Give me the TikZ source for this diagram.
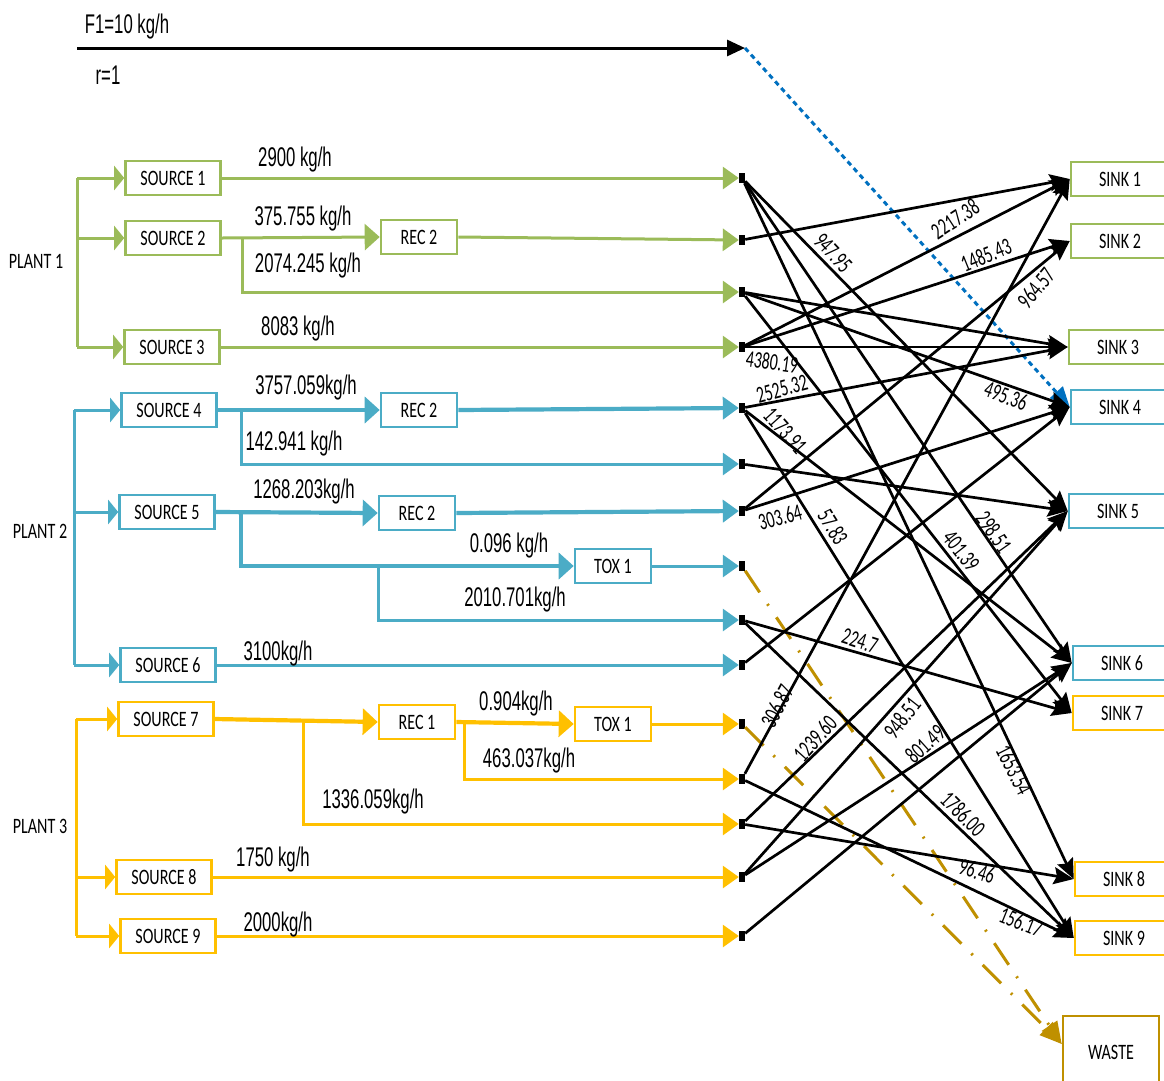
\documentclass[tikz,border=0pt]{standalone}
\usepackage{fontspec}
\usetikzlibrary{arrows.meta}
\newfontfamily\boxfont[FakeStretch=0.73]{Carlito}
\newfontfamily\numfont[FakeStretch=0.66]{Carlito}
\newfontfamily\flowfont[FakeStretch=0.62]{Liberation Sans}
\definecolor{pg}{HTML}{9BBB59}
\definecolor{pb}{HTML}{4BACC6}
\definecolor{py}{HTML}{FFC000}
\definecolor{wg}{HTML}{BF9000}
\definecolor{db}{HTML}{0070C0}
\begin{document}
\begin{tikzpicture}[x=1pt,y=-1pt,
  bx/.style={draw, line width=2.6pt, inner sep=0pt, minimum height=34pt, font=\boxfont\fontsize{22}{24}\selectfont},
  srcbox/.style={bx, minimum width=95pt},
  recbox/.style={bx, minimum width=76pt},
  sinkbox/.style={bx, minimum width=98pt},
  plantlbl/.style={font=\boxfont\fontsize{22}{24}\selectfont, inner sep=0pt},
  flowlbl/.style={font=\flowfont\fontsize{27}{29}\selectfont, inner sep=0pt},
  vlbl/.style={font=\numfont\fontsize{24}{26}\selectfont, inner sep=0pt},
  jn/.style={fill=black, minimum width=6pt, minimum height=10pt, inner sep=0pt},
  pipe/.style={line width=3pt},
  fatpipe/.style={line width=4.2pt},
  arrS/.style={-{Triangle[length=10pt,width=24pt]}},
  arrR/.style={-{Triangle[length=15pt,width=26pt]}},
  arrJ/.style={-{Triangle[length=16pt,width=22pt]}},
  conn/.style={line width=2.7pt, -{Stealth[length=20pt,width=17pt,inset=3pt]}},
]
\fill[white] (0,0) rectangle (1164,1080);
\useasboundingbox (0,0) rectangle (1164,1080);
\clip (0,0) rectangle (1164,1080);

% ---------- top arrow ----------
\coordinate (f1s) at (77,48);
\coordinate (f1e) at (745,48);
\draw[line width=3pt, -{Triangle[length=18pt,width=16pt]}] (f1s) -- (f1e);
\node[flowlbl] (f1) at (127,27) {F1=10 kg/h};
\node[flowlbl] (rr) at (108,75) {r=1};

% ---------- plant labels ----------
\node[plantlbl] (pl1) at (36,261) {PLANT 1};
\node[plantlbl] (pl2) at (40,531) {PLANT 2};
\node[plantlbl] (pl3) at (40,826) {PLANT 3};

% ---------- boxes ----------
\node[srcbox,draw=pg] (src1) at (173,178) {SOURCE 1};
\node[srcbox,draw=pg] (src2) at (173,238) {SOURCE 2};
\node[srcbox,draw=pg] (src3) at (172,347) {SOURCE 3};
\node[recbox,draw=pg] (rec1) at (419,237) {REC 2};
\node[srcbox,draw=pb] (src4) at (169,410) {SOURCE 4};
\node[srcbox,draw=pb] (src5) at (167,512) {SOURCE 5};
\node[srcbox,draw=pb] (src6) at (168,665) {SOURCE 6};
\node[recbox,draw=pb] (rec2) at (419,410) {REC 2};
\node[recbox,draw=pb] (rec3) at (417,513) {REC 2};
\node[recbox,draw=pb] (tox1) at (613,566) {TOX 1};
\node[srcbox,draw=py] (src7) at (166,719) {SOURCE 7};
\node[srcbox,draw=py] (src8) at (164,877) {SOURCE 8};
\node[srcbox,draw=py] (src9) at (168,936) {SOURCE 9};
\node[recbox,draw=py] (rec4) at (417,722) {REC 1};
\node[recbox,draw=py] (tox2) at (613,724) {TOX 1};

\node[sinkbox,draw=pg] (k1) at (1120,179) {SINK 1};
\node[sinkbox,draw=pg] (k2) at (1120,241) {SINK 2};
\node[sinkbox,draw=pg] (k3) at (1118,347) {SINK 3};
\node[sinkbox,draw=pb] (k4) at (1120,407) {SINK 4};
\node[sinkbox,draw=pb] (k5) at (1118,511) {SINK 5};
\node[sinkbox,draw=pb] (k6) at (1122,663) {SINK 6};
\node[sinkbox,draw=py] (k7) at (1122,713) {SINK 7};
\node[sinkbox,draw=py] (k8) at (1124,879) {SINK 8};
\node[sinkbox,draw=py] (k9) at (1124,938) {SINK 9};
\node[bx,draw=wg,minimum width=96pt,minimum height=72pt] (waste) at (1111,1052) {WASTE};

% ---------- junctions ----------
\node[jn] (j1) at (742,178) {};
\node[jn] (j2) at (742,240) {};
\node[jn] (j3) at (742,292) {};
\node[jn] (j4) at (742,347) {};
\node[jn] (j5) at (742,408) {};
\node[jn] (j6) at (742,464) {};
\node[jn] (j7) at (742,511) {};
\node[jn] (j8) at (742,566) {};
\node[jn] (j9) at (742,620) {};
\node[jn] (j10) at (742,665) {};
\node[jn] (j11) at (742,724) {};
\node[jn] (j12) at (742,779) {};
\node[jn] (j13) at (742,824) {};
\node[jn] (j14) at (742,877) {};
\node[jn] (j15) at (742,936) {};

% ---------- plant 1 ----------
\coordinate (t1a) at (77,178);
\coordinate (t1b) at (77,347);
\draw[pg,pipe] (t1a) -- (t1b);
\draw[pg,pipe,arrS] (t1a) -- (src1.west);
\draw[pg,pipe,arrS] (t1a |- src2.west) -- (src2.west);
\draw[pg,pipe,arrS] (t1b) -- (src3.west);
\draw[pg,pipe,arrJ] (src1.east) -- (j1.west);
\draw[pg,pipe,arrR] (src2.east) -- (rec1.west);
\draw[pg,pipe,arrJ] (rec1.east) -- (j2.west);
\coordinate (b2) at (242,238);
\draw[pg,pipe,arrJ] (b2) |- (j3.west);
\draw[pg,pipe,arrJ] (src3.east) -- (j4.west);

% ---------- plant 2 ----------
\coordinate (t2a) at (74,410);
\coordinate (t2b) at (74,665);
\draw[pb,pipe] (t2a) -- (t2b);
\draw[pb,pipe,arrS] (t2a) -- (src4.west);
\draw[pb,pipe,arrS] (t2a |- src5.west) -- (src5.west);
\draw[pb,pipe,arrS] (t2b) -- (src6.west);
\draw[pb,fatpipe,arrR] (src4.east) -- (rec2.west);
\draw[pb,fatpipe,arrJ] (rec2.east) -- (j5.west);
\coordinate (b4) at (241,410);
\draw[pb,pipe,arrJ] (b4) |- (j6.west);
\draw[pb,fatpipe,arrR] (src5.east) -- (rec3.west);
\draw[pb,fatpipe,arrJ] (rec3.east) -- (j7.west);
\coordinate (b5) at (241,512);
\draw[pb,fatpipe,arrR] (b5) |- (tox1.west);
\coordinate (b5b) at (378,566);
\draw[pb,pipe,arrJ] (b5b) |- (j9.west);
\draw[pb,pipe,arrJ] (tox1.east) -- (j8.west);
\draw[pb,pipe,arrJ] (src6.east) -- (j10.west);

% ---------- plant 3 ----------
\coordinate (t3a) at (76,719);
\coordinate (t3b) at (76,936);
\draw[py,pipe] (t3a) -- (t3b);
\draw[py,pipe,arrS] (t3a) -- (src7.west);
\draw[py,pipe,arrS] (t3a |- src8.west) -- (src8.west);
\draw[py,pipe,arrS] (t3b) -- (src9.west);
\draw[py,fatpipe,arrR] (src7.east) -- (rec4.west);
\coordinate (b7) at (303,720);
\draw[py,pipe,arrJ] (b7) |- (j13.west);
\draw[py,fatpipe,arrR] (rec4.east) -- (tox2.west);
\coordinate (b8) at (464,722);
\draw[py,pipe,arrJ] (b8) |- (j12.west);
\draw[py,pipe,arrJ] (tox2.east) -- (j11.west);
\draw[py,pipe,arrJ] (src8.east) -- (j14.west);
\draw[py,pipe,arrJ] (src9.east) -- (j15.west);

% ---------- flow labels ----------
\node[flowlbl] (q1) at (295,160) {2900 kg/h};
\node[flowlbl] (q2) at (303,219) {375.755 kg/h};
\node[flowlbl] (q3) at (308,266) {2074.245 kg/h};
\node[flowlbl] (q4) at (298,329) {8083 kg/h};
\node[flowlbl] (q5) at (306,388) {3757.059kg/h};
\node[flowlbl] (q6) at (294,444) {142.941 kg/h};
\node[flowlbl] (q7) at (304,492) {1268.203kg/h};
\node[flowlbl] (q8) at (509,546) {0.096 kg/h};
\node[flowlbl] (q9) at (515,600) {2010.701kg/h};
\node[flowlbl] (q10) at (278,654) {3100kg/h};
\node[flowlbl] (q11) at (516,704) {0.904kg/h};
\node[flowlbl] (q12) at (529,761) {463.037kg/h};
\node[flowlbl] (q13) at (373,802) {1336.059kg/h};
\node[flowlbl] (q14) at (273,860) {1750 kg/h};
\node[flowlbl] (q15) at (278,925) {2000kg/h};

% ---------- special connectors ----------
\draw[db, line width=3pt, dash pattern=on 5pt off 4pt, -{Triangle[length=20pt,width=17pt]}] (f1e) -- (k4.west);
\coordinate (wt) at ([yshift=8pt]waste.west);
\draw[wg, line width=3pt, dash pattern=on 26pt off 14pt on 2pt off 14pt, -{Triangle[length=22pt,width=18pt]}] (j8) -- (wt);
\draw[wg, line width=3pt, dash pattern=on 26pt off 14pt on 2pt off 14pt, -{Triangle[length=22pt,width=18pt]}] (j11) -- (wt);

% ---------- black connectors ----------
\draw[conn] (j1) -- (k5.west);
\draw[conn] (j1) -- (k8.west);
\draw[conn] (j1) -- (k6.west);
\draw[conn] (j2) -- (k1.west);
\draw[conn] (j3) -- (k3.west);
\draw[conn] (j3) -- (k4.west);
\draw[conn] (j3) -- (k7.west);
\draw[conn] (j4) -- (k1.west);
\draw[conn] (j4) -- (k2.west);
\draw[conn] (j4) -- (k3.west);
\draw[conn] (j5) -- (k3.west);
\draw[conn] (j5) -- (k6.west);
\draw[conn] (j5) -- (k9.west);
\draw[conn] (j6) -- (k5.west);
\draw[conn] (j7) -- (k2.west);
\draw[conn] (j7) -- (k4.west);
\draw[conn] (j9) -- (k7.west);
\draw[conn] (j9) -- (k9.west);
\draw[conn] (j10) -- (k4.west);
\draw[conn] (j12) -- (k1.west);
\draw[conn] (j12) -- (k9.west);
\draw[conn] (j13) -- (k5.west);
\draw[conn] (j13) -- (k8.west);
\draw[conn] (j14) -- (k5.west);
\draw[conn] (j14) -- (k6.west);
\draw[conn] (j15) -- (k6.west);

% ---------- connector labels ----------
\node[vlbl, rotate=-47] (v1) at (833,253) {947.95};
\node[vlbl, rotate=33] (v2) at (955,219) {2217.38};
\node[vlbl, rotate=22] (v3) at (986,255) {1485.43};
\node[vlbl, rotate=50] (v4) at (1036,288) {964.57};
\node[vlbl, rotate=-8] (v5) at (772,362) {4380.19};
\node[vlbl, rotate=15] (v6) at (782,389) {2525.32};
\node[vlbl, rotate=-20] (v7) at (1006,396) {495.36};
\node[vlbl, rotate=-48] (v8) at (785,431) {1173.91};
\node[vlbl, rotate=15] (v9) at (780,517) {303.64};
\node[vlbl, rotate=-58] (v10) at (833,527) {57.83};
\node[vlbl, rotate=-55] (v11) at (994,532) {298.51};
\node[vlbl, rotate=-52] (v12) at (961,551) {401.39};
\node[vlbl, rotate=-18] (v13) at (860,641) {224.7};
\node[vlbl, rotate=62] (v14) at (777,706) {306.87};
\node[vlbl, rotate=48] (v15) at (815,739) {1239.60};
\node[vlbl, rotate=52] (v16) at (902,718) {948.51};
\node[vlbl, rotate=42] (v17) at (925,744) {801.49};
\node[vlbl, rotate=-63] (v18) at (1014,770) {1653.54};
\node[vlbl, rotate=-45] (v19) at (963,814) {1786.00};
\node[vlbl, rotate=-18] (v20) at (977,871) {96.46};
\node[vlbl, rotate=-22] (v21) at (1021,922) {156.17};
\end{tikzpicture}
\end{document}
